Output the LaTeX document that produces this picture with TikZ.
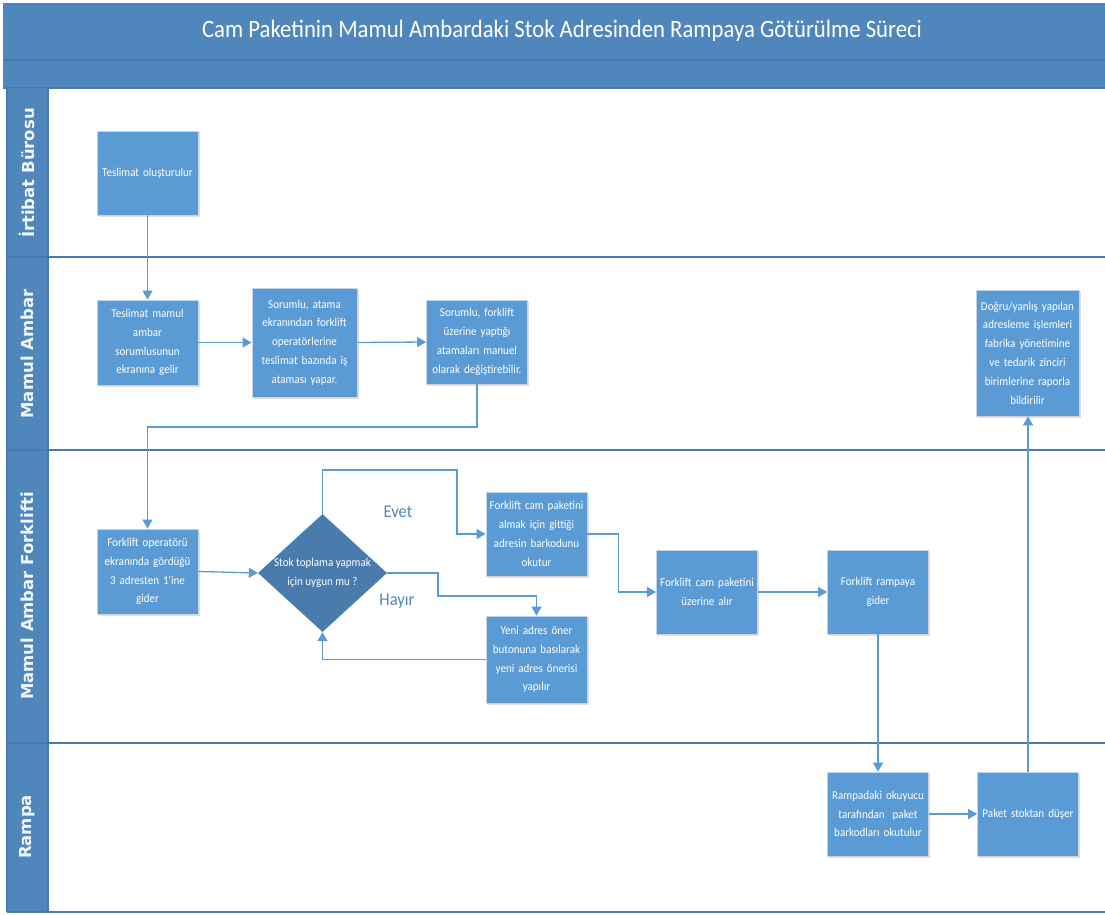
\documentclass[tikz,border=0pt]{standalone}
\usepackage{fontspec}
\setmainfont{Carlito}
\newfontfamily\narrowfont[FakeStretch=0.92]{Carlito}
\newfontfamily\titlefont[FakeStretch=0.91]{Carlito}
\newfontfamily\lanefont{DejaVu Sans}
\usetikzlibrary{arrows.meta,shapes.geometric,shadows}

\definecolor{bandblue}{RGB}{79,135,188}
\definecolor{laneline}{RGB}{70,122,175}
\definecolor{boxblue}{RGB}{91,155,213}
\definecolor{decblue}{RGB}{73,123,173}
\definecolor{wireblue}{RGB}{91,155,213}
\definecolor{boxedge}{RGB}{200,212,225}

\tikzset{
  procbox/.style={rectangle, fill=boxblue, draw=boxedge, line width=0.8pt,
    inner sep=2pt, align=center, text=white, text width=#1,
    font=\narrowfont\fontsize{12}{18.8}\selectfont,
    drop shadow={shadow xshift=1.5pt, shadow yshift=-1.5pt, opacity=0.25}},
  procbox/.default=97pt,
  decision/.style={diamond, fill=decblue, draw=none, inner sep=0pt,
    minimum width=129pt, minimum height=118pt},
  wire/.style={draw=wireblue, line width=1.3pt,
    -{Triangle[width=10pt,length=9pt]}},
  lanesep/.style={draw=laneline, line width=1.6pt},
  lanelabel/.style={rotate=90, text=white!93!bandblue,
    font=\lanefont\bfseries\fontsize{16.5}{18}\selectfont},
  branchlabel/.style={text=bandblue, font=\narrowfont\fontsize{18}{20}\selectfont}
}

\begin{document}
\begin{tikzpicture}[x=1pt,y=-1pt]
\useasboundingbox (0,0) rectangle (1105,915);

% header bands
\fill[bandblue] (3,3) rectangle (1105,88);
\draw[lanesep] (3,60) -- (1105,60);
\draw[lanesep] (3,88) -- (1105,88);
\node[text=white, font=\titlefont\fontsize{25}{27}\selectfont] (title) at (562,31)
  {Cam Paketinin Mamul Ambardaki Stok Adresinden Rampaya Götürülme Süreci};

% lane header column and lane separators
\fill[bandblue] (7,88) rectangle (48,912);
\draw[lanesep] (48,88) -- (48,912);
\draw[lanesep] (7,257) -- (1105,257);
\draw[lanesep] (7,450) -- (1105,450);
\draw[lanesep] (7,743) -- (1105,743);
\draw[lanesep] (7,912) -- (1105,912);
\draw[lanesep] (7,88) -- (7,912);

\node[lanelabel] (lane1) at (27,173) {İrtibat Bürosu};
\node[lanelabel] (lane2) at (27,354) {Mamul Ambar};
\node[lanelabel] (lane3) at (27,596) {Mamul Ambar Forklifti};
\node[lanelabel] (lane4) at (27,827) {Rampa};

% process steps
\node[procbox, minimum width=99pt, minimum height=84pt] (b1) at (147.5,173)
  {Teslimat oluşturulur};
\node[procbox, minimum width=99pt, minimum height=85pt] (b2) at (147.5,342.5)
  {Teslimat mamul\\ambar\\sorumlusunun\\ekranına gelir};
\node[procbox=101pt, minimum width=105pt, minimum height=109pt] (b3) at (304.5,342.5)
  {Sorumlu, atama\\ekranından forklift\\operatörlerine\\teslimat bazında iş\\ataması yapar.};
\node[procbox, minimum width=100pt, minimum height=84pt] (b4) at (477,342)
  {Sorumlu, forklift\\üzerine yaptığı\\atamaları manuel\\olarak değiştirebilir.};
\node[procbox=99pt, minimum width=101pt, minimum height=126pt] (b12) at (1027.5,353)
  {Doğru/yanlış yapılan\\adresleme işlemleri\\fabrika yönetimine\\ve tedarik zinciri\\birimlerine raporla\\bildirilir};
\node[procbox, minimum width=99pt, minimum height=85pt] (b5) at (147.5,571.5)
  {Forklift operatörü\\ekranında gördüğü\\3 adresten 1'ine\\gider};
\node[decision,
  label={[text=white, align=center, font=\narrowfont\fontsize{12}{18.8}\selectfont]center:Stok toplama yapmak\\için uygun mu ?}]
  (dia) at (322.5,573) {};
\node[procbox, minimum width=99pt, minimum height=84pt] (b6) at (536.5,534)
  {Forklift cam paketini\\almak için gittiği\\adresin barkodunu\\okutur};
\node[procbox, minimum width=99pt, minimum height=87pt] (b7) at (536.5,659.5)
  {Yeni adres öner\\butonuna basılarak\\yeni adres önerisi\\yapılır};
\node[procbox, minimum width=98pt, minimum height=84pt] (b8) at (707,592)
  {Forklift cam paketini\\üzerine alır};
\node[procbox, minimum width=100pt, minimum height=84pt] (b9) at (878,592)
  {Forklift rampaya\\gider};
\node[procbox, minimum width=100pt, minimum height=84pt] (b10) at (878,814)
  {Rampadaki okuyucu\\tarafından\ \ paket\\barkodları okutulur};
\node[procbox, minimum width=100pt, minimum height=84pt] (b11) at (1028,814)
  {Paket stoktan düşer};

% branch labels
\node[branchlabel] (evet) at (398,512) {Evet};
\node[branchlabel] (hayir) at (397,601) {Hayır};

% connectors
\draw[wire] (b1.south) -- (b2.north);
\draw[wire] (b2.east) -- (b3.west);
\draw[wire] (b3.east) -- (b4.west);
\draw[wire] (b4.south) |- (300,427) -| (b5.north);
\draw[wire] (b5.east) -- (dia.west);
\draw[wire] (dia.north) |- (457,470) |- (b6.west);
\draw[wire] (dia.east) -| (438,596) -| (b7.north);
\draw[wire] (b7.west) -| (dia.south);
\draw[wire] (b6.east) -- ++(31,0) |- (b8.west);
\draw[wire] (b8.east) -- (b9.west);
\draw[wire] (b9.south) -- (b10.north);
\draw[wire] (b10.east) -- (b11.west);
\draw[wire] (b11.north) -- (b11.north |- b12.south);
\end{tikzpicture}
\end{document}
